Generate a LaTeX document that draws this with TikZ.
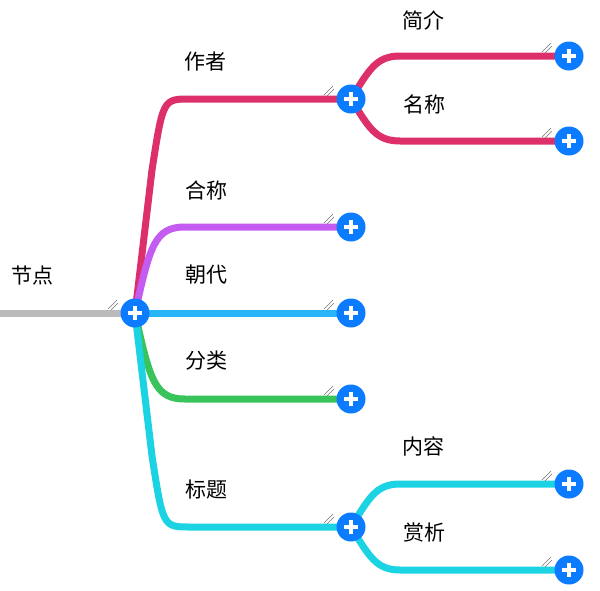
\documentclass[tikz,border=0pt]{standalone}
\usepackage{fontspec}
\newfontfamily\cjk{Noto Sans CJK SC}
\usepackage{tikz}
\usetikzlibrary{positioning,backgrounds}

\definecolor{plusblue}{HTML}{0B7BFF}
\definecolor{rootgray}{HTML}{BBBBBB}
\definecolor{pinkline}{HTML}{DD306A}
\definecolor{purpleline}{HTML}{C45CF2}
\definecolor{blueline}{HTML}{29B6F8}
\definecolor{greenline}{HTML}{38C35B}
\definecolor{cyanline}{HTML}{1CD3E4}

\tikzset{
  plus/.style = {circle, fill=plusblue, minimum size=29pt, inner sep=0pt,
    path picture={
      \draw[white, line width=3.6pt]
        (path picture bounding box.center) +(-7pt,0) -- +(7pt,0)
        (path picture bounding box.center) +(0,-7pt) -- +(0,7pt);
    }},
  lbl/.style = {font=\cjk\fontsize{21}{24}\selectfont, inner sep=0pt},
  branch/.style = {line width=7pt},
  grip/.style = {black!55, line width=0.5pt}
}

\begin{document}
\begin{tikzpicture}[x=1pt, y=-1pt]
  \useasboundingbox (0,0) rectangle (600,590);

  % plus buttons
  \coordinate (in) at (0,313);
  \node[plus] (root) at (135,313) {};
  \node[plus] (a1) at (351,99) {};
  \node[plus] (a2) at (351,227) {};
  \node[plus] (a3) at (351,313) {};
  \node[plus] (a4) at (351,399) {};
  \node[plus] (a5) at (351,527) {};
  \node[plus] (c1) at (569,56) {};
  \node[plus] (c2) at (569,141) {};
  \node[plus] (c3) at (569,484) {};
  \node[plus] (c4) at (569,570) {};

  % branches, behind the buttons
  \begin{scope}[on background layer]
  \draw[branch, rootgray] (in) -- (root.center);

  \draw[branch, pinkline] (root.center) -- (152,170) .. controls (163,99) .. (190,99) -- (a1.center);
  \draw[branch, purpleline] (root.center) .. controls (150,245) and (155,227) .. (185,227) -- (a2.center);
  \draw[branch, blueline] (root.center) -- (a3.center);
  \draw[branch, greenline] (root.center) .. controls (150,381) and (155,399) .. (185,399) -- (a4.center);
  \draw[branch, cyanline] (root.center) -- (152,456) .. controls (163,527) .. (190,527) -- (a5.center);

  \draw[branch, pinkline] (a1.center) .. controls (369,70) and (376,56) .. (400,56) -- (c1.center);
  \draw[branch, pinkline] (a1.center) .. controls (369,128) and (376,141) .. (400,141) -- (c2.center);
  \draw[branch, cyanline] (a5.center) .. controls (369,498) and (376,484) .. (400,484) -- (c3.center);
  \draw[branch, cyanline] (a5.center) .. controls (369,556) and (376,570) .. (400,570) -- (c4.center);
  \end{scope}

  % resize grips
  \foreach \n in {root,a1,a2,a3,a4,a5,c1,c2,c3,c4}{
    \draw[grip] ([shift={(-27,-4)}]\n.center) -- ++(9,-9);
    \draw[grip] ([shift={(-24,-3)}]\n.center) -- ++(7,-7);
  }

  % labels
  \node[lbl] (t0) at (33,276) {节点};
  \node[lbl] (t1) at (205,62) {作者};
  \node[lbl] (t2) at (206,190) {合称};
  \node[lbl] (t3) at (206,275) {朝代};
  \node[lbl] (t4) at (206,361) {分类};
  \node[lbl] (t5) at (206,490) {标题};
  \node[lbl] (t6) at (423,20) {简介};
  \node[lbl] (t7) at (424,104) {名称};
  \node[lbl] (t8) at (423,446) {内容};
  \node[lbl] (t9) at (424,532) {赏析};
\end{tikzpicture}
\end{document}
